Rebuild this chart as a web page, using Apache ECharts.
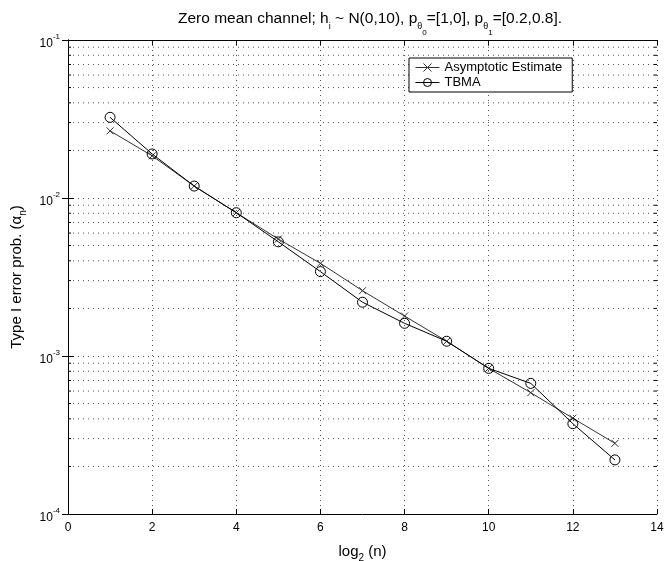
<!DOCTYPE html>
<html>
<head>
<meta charset="utf-8">
<script src="https://cdn.jsdelivr.net/npm/echarts@6/dist/echarts.min.js"></script>
<style>
  html, body { margin: 0; padding: 0; background: #fff; }
  #main { width: 668px; height: 561px; }
</style>
</head>
<body>
<div id="main"></div>
<script>
// x = log2(n)
const xValues = [1, 2, 3, 4, 5, 6, 7, 8, 9, 10, 11, 12, 13];
// asymptotic estimate (x markers)
const asymptotic = [0.0266, 0.0185, 0.0119, 0.00807, 0.0055, 0.00386, 0.00259, 0.00179, 0.00124, 0.000835, 0.000586, 0.000404, 0.00028];
// TBMA simulation (circle markers)
const tbma = [0.0324, 0.0190, 0.0119, 0.00807, 0.00528, 0.00342, 0.00219, 0.00161, 0.00124, 0.000835, 0.000671, 0.000373, 0.000220];
const seriesNames = ['Asymptotic Estimate', 'TBMA'];
const decades = [-4, -3, -2, -1];

// minor grid values 2..9 x 10^k
const minorVals = [];
decades.slice(0, 3).forEach(function (e) {
  for (let m = 2; m <= 9; m++) minorVals.push(m * Math.pow(10, e));
});

const font = 'Liberation Sans, Arial, Helvetica, sans-serif';
const chart = echarts.init(document.getElementById('main'));

const pair = (xs, ys) => xs.map((x, i) => [x, ys[i]]);

chart.setOption({
  animation: false,
  backgroundColor: '#fff',
  title: {
    left: 365,
    textAlign: 'center',
    top: 6,
    text: '{n|Zero mean channel; h}{s1|i}{n| ~ N(0,10), p}{s1|θ}{s2|0}{n|=[1,0], p}{s1|θ}{s2|1}{n|=[0.2,0.8].}',
    textStyle: {
      fontFamily: font,
      fontWeight: 'normal',
      rich: {
        n: { fontFamily: font, fontWeight: 'normal', fontSize: 15.5, color: '#000', verticalAlign: 'top', lineHeight: 18 },
        s1: { fontFamily: font, fontWeight: 'normal', fontSize: 9, color: '#000', verticalAlign: 'top', padding: [11, 0, 0, 0] },
        s2: { fontFamily: font, fontWeight: 'normal', fontSize: 8, color: '#000', verticalAlign: 'top', padding: [18, 0, 0, 0] }
      }
    }
  },
  legend: {
    left: 409,
    top: 58,
    orient: 'vertical',
    itemGap: 2,
    itemWidth: 24,
    itemHeight: 10,
    padding: [3, 10, 3, 6],
    borderColor: '#000',
    borderWidth: 1,
    borderRadius: 0,
    backgroundColor: '#fff',
    textStyle: { fontFamily: font, fontSize: 13, color: '#000' },
    itemStyle: { borderWidth: 1 },
    lineStyle: { width: 1 },
    data: seriesNames
  },
  grid: { left: 68, right: 11, top: 40, bottom: 47, containLabel: false, outerBoundsMode: 'none' },
  xAxis: [{
    type: 'value',
    min: 0, max: 14, interval: 2,
    name: '{n|log}{s|2}{n| (n)}',
    nameLocation: 'middle',
    nameGap: 30,
    nameTextStyle: {
      rich: {
        n: { fontFamily: font, fontSize: 15, color: '#000', verticalAlign: 'top', lineHeight: 18 },
        s: { fontFamily: font, fontSize: 10, color: '#000', verticalAlign: 'top', padding: [9, 0, 0, 0] }
      }
    },
    axisLine: { lineStyle: { color: '#000', width: 1 } },
    axisTick: { inside: true, length: 5, lineStyle: { color: '#000' } },
    axisLabel: { fontFamily: font, fontSize: 12, color: '#000', margin: 8 },
    splitLine: { show: true, lineStyle: { color: '#555', type: [1, 4], width: 1 } }
  }, {
    type: 'value',
    position: 'top',
    min: 0, max: 14, interval: 2,
    axisLine: { lineStyle: { color: '#000', width: 1 } },
    axisTick: { inside: true, length: 5, lineStyle: { color: '#000' } },
    axisLabel: { show: false },
    splitLine: { show: false }
  }],
  yAxis: [{
    type: 'log',
    logBase: 10,
    min: 1e-4, max: 1e-1,
    name: '{n|Type I error prob. (α}{s|n}{n|)}',
    nameLocation: 'middle',
    nameGap: 38,
    nameTextStyle: {
      rich: {
        n: { fontFamily: font, fontSize: 15, color: '#000', verticalAlign: 'top', lineHeight: 18 },
        s: { fontFamily: font, fontSize: 10, color: '#000', verticalAlign: 'top', padding: [9, 0, 0, 0] }
      }
    },
    axisLine: { lineStyle: { color: '#000', width: 1 } },
    axisTick: { inside: true, length: 6, lineStyle: { color: '#000' } },
    axisLabel: {
      margin: 8,
      formatter: function (v) {
        const e = Math.round(Math.log10(v));
        return '{b|10}{e|' + e + '}';
      },
      rich: {
        b: { fontFamily: font, fontSize: 12, color: '#000', verticalAlign: 'top', lineHeight: 14, padding: [5, 0, 0, 0] },
        e: { fontFamily: font, fontSize: 8, color: '#000', verticalAlign: 'top', lineHeight: 10 }
      }
    },
    splitLine: { show: true, lineStyle: { color: '#555', type: [1, 4], width: 1 } }
  }, {
    type: 'log',
    logBase: 10,
    position: 'right',
    min: 1e-4, max: 1e-1,
    axisLine: { lineStyle: { color: '#000', width: 1 } },
    axisTick: { inside: true, length: 6, lineStyle: { color: '#000' } },
    axisLabel: { show: false },
    splitLine: { show: false }
  }],
  series: [{
    // minor log grid lines with inner ticks on both sides
    type: 'custom',
    silent: true,
    z: 1,
    data: minorVals.map(v => [0, v]),
    encode: { x: 0, y: 1 },
    renderItem: function (params, api) {
      const cs = params.coordSys;
      const y = api.coord([0, api.value(1)])[1];
      return {
        type: 'group',
        children: [{
          type: 'line',
          shape: { x1: cs.x, y1: y, x2: cs.x + cs.width, y2: y },
          style: { stroke: '#555', lineWidth: 1, lineDash: [1, 4] }
        }, {
          type: 'line',
          shape: { x1: cs.x, y1: y, x2: cs.x + 3, y2: y },
          style: { stroke: '#000', lineWidth: 1 }
        }, {
          type: 'line',
          shape: { x1: cs.x + cs.width - 3, y1: y, x2: cs.x + cs.width, y2: y },
          style: { stroke: '#000', lineWidth: 1 }
        }]
      };
    }
  }, {
    name: seriesNames[0],
    type: 'line',
    z: 3,
    data: pair(xValues, asymptotic),
    symbol: 'path://M0,0L10,10M0,10L10,0',
    symbolSize: 7,
    lineStyle: { color: '#333', width: 1 },
    itemStyle: { color: '#000', borderColor: '#333', borderWidth: 1 }
  }, {
    name: seriesNames[1],
    type: 'line',
    z: 4,
    data: pair(xValues, tbma),
    symbol: 'circle',
    symbolSize: 10,
    lineStyle: { color: '#000', width: 1 },
    itemStyle: { color: 'none', borderColor: '#000', borderWidth: 1 }
  }]
});
</script>
</body>
</html>
